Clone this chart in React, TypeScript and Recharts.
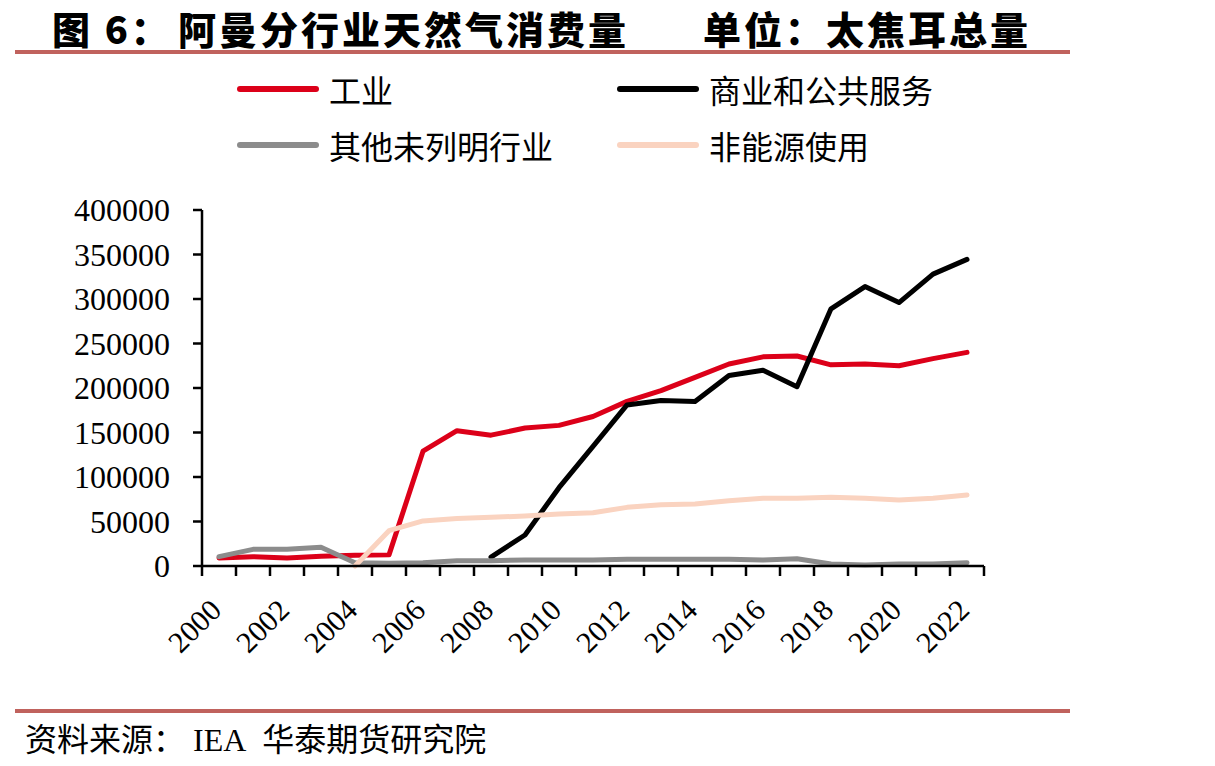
import React from "react"
import { LineChart, Line, XAxis, YAxis } from "recharts"

const years = [
  "2000", "2001", "2002", "2003", "2004", "2005", "2006", "2007", "2008", "2009", "2010", "2011",
  "2012", "2013", "2014", "2015", "2016", "2017", "2018", "2019", "2020", "2021", "2022",
]

// 工业
const gongye = [
  9000, 10500, 9000, 11000, 12000, 12500, 129000, 152000, 147000, 155000, 158000, 168000,
  185000, 197000, 212000, 227000, 235000, 236000, 226000, 227000, 225000, 233000, 240000,
]

// 商业和公共服务
const shangye = [
  null, null, null, null, null, null, null, null, 10000, 34800, 88000, 134500,
  181000, 186000, 184800, 214000, 220000, 201500, 289000, 314000, 296000, 328000, 344500,
]

// 其他未列明行业
const qita = [
  10500, 18700, 18700, 21000, 3700, 3000, 3700, 6000, 6000, 6700, 6700, 6700,
  7500, 7500, 7500, 7500, 6700, 8200, 2200, 1100, 2200, 2200, 3700,
]

// 非能源使用
const feinengyuan = [
  null, null, null, null, 0, 39700, 50600, 53500, 54700, 56200, 58400, 59900,
  65900, 68900, 69700, 73400, 76000, 76000, 77200, 76000, 74200, 76000, 79800,
]

const yTicks = [0, 50000, 100000, 150000, 200000, 250000, 300000, 350000, 400000]

const series = [
  { key: "gongye", name: "工业", color: "#DC0019" },
  { key: "shangye", name: "商业和公共服务", color: "#000000" },
  { key: "qita", name: "其他未列明行业", color: "#8C8C8C" },
  { key: "feinengyuan", name: "非能源使用", color: "#FAD3C0" },
]

const data = years.map((year, i) => ({
  idx: i,
  year,
  gongye: gongye[i],
  shangye: shangye[i],
  qita: qita[i],
  feinengyuan: feinengyuan[i],
}))

// tick marks sit between categories, like the original
const boundaryTicks = Array.from({ length: years.length + 1 }, (_, i) => i - 0.5)

const serif = "'Times New Roman', 'Liberation Serif', serif"
const cjk = "'Noto Sans CJK SC', 'Noto Sans', sans-serif"

function XTick(props: any) {
  const { x, y, payload, width } = props
  const k = payload.value + 0.5
  if (k % 2 !== 0 || k >= years.length) return <g />
  const w = typeof width === "number" ? width : 782
  const cx = x + w / years.length / 2 + 4
  return (
    <text
      x={cx}
      y={y}
      textAnchor="end"
      transform={`rotate(-45, ${cx}, ${y})`}
      fontFamily={serif}
      fontSize={30}
      fill="#000"
    >
      {years[k]}
    </text>
  )
}

const titleStyle: React.CSSProperties = {
  position: "absolute",
  top: 0,
  fontSize: 38,
  letterSpacing: 3,
  fontWeight: 900,
  whiteSpace: "nowrap",
  color: "#000",
}

export default function App() {
  return (
    <div
      style={{
        position: "absolute",
        left: 0,
        top: 0,
        width: 1215,
        height: 766,
        background: "#fff",
        fontFamily: cjk,
      }}
    >
      <div style={{ ...titleStyle, left: 52 }}>图&nbsp;6：</div>
      <div style={{ ...titleStyle, left: 178 }}>阿曼分行业天然气消费量</div>
      <div style={{ ...titleStyle, left: 703 }}>单位：太焦耳总量</div>
      <div style={{ position: "absolute", left: 15, top: 50, width: 1055, height: 4, background: "#C0625D" }} />

      {series.map((s, i) => (
        <div
          key={s.key}
          style={{
            position: "absolute",
            left: i % 2 === 0 ? 237 : 617,
            top: i < 2 ? 68 : 124,
            height: 42,
            display: "flex",
            alignItems: "center",
            whiteSpace: "nowrap",
          }}
        >
          <div style={{ width: 82, height: 6, borderRadius: 3, background: s.color, marginRight: 10 }} />
          <span style={{ fontSize: 32, color: "#000" }}>{s.name}</span>
        </div>
      ))}

      <div style={{ position: "absolute", left: 0, top: 0 }}>
        <LineChart width={1215} height={766} data={data} margin={{ top: 210, right: 231, bottom: 0, left: 0 }}>
          <XAxis
            dataKey="idx"
            type="number"
            domain={[-0.5, years.length - 0.5]}
            ticks={boundaryTicks}
            interval={0}
            allowDataOverflow
            height={200}
            axisLine={{ stroke: "#000", strokeWidth: 2.5 }}
            tickLine={{ stroke: "#000", strokeWidth: 2.5 }}
            tickSize={10}
            tickMargin={36}
            tick={<XTick />}
          />
          <YAxis
            domain={[0, 400000]}
            ticks={yTicks}
            interval={0}
            width={202}
            axisLine={{ stroke: "#000", strokeWidth: 2.5 }}
            tickLine={{ stroke: "#000", strokeWidth: 2.5 }}
            tickSize={9}
            tickMargin={23}
            tick={{ fontFamily: serif, fontSize: 32, fill: "#000" }}
          />
          {series.map((s) => (
            <Line
              key={s.key}
              dataKey={s.key}
              name={s.name}
              stroke={s.color}
              strokeWidth={5}
              strokeLinecap="round"
              strokeLinejoin="round"
              dot={false}
              activeDot={false}
              isAnimationActive={false}
            />
          ))}
        </LineChart>
      </div>

      <div style={{ position: "absolute", left: 15, top: 709, width: 1055, height: 4, background: "#C0625D" }} />
      <div style={{ position: "absolute", left: 25, top: 714, fontSize: 32, whiteSpace: "nowrap", color: "#000" }}>
        资料来源：<span style={{ fontFamily: serif }}>&nbsp;IEA&nbsp;&nbsp;</span>华泰期货研究院
      </div>
    </div>
  )
}
